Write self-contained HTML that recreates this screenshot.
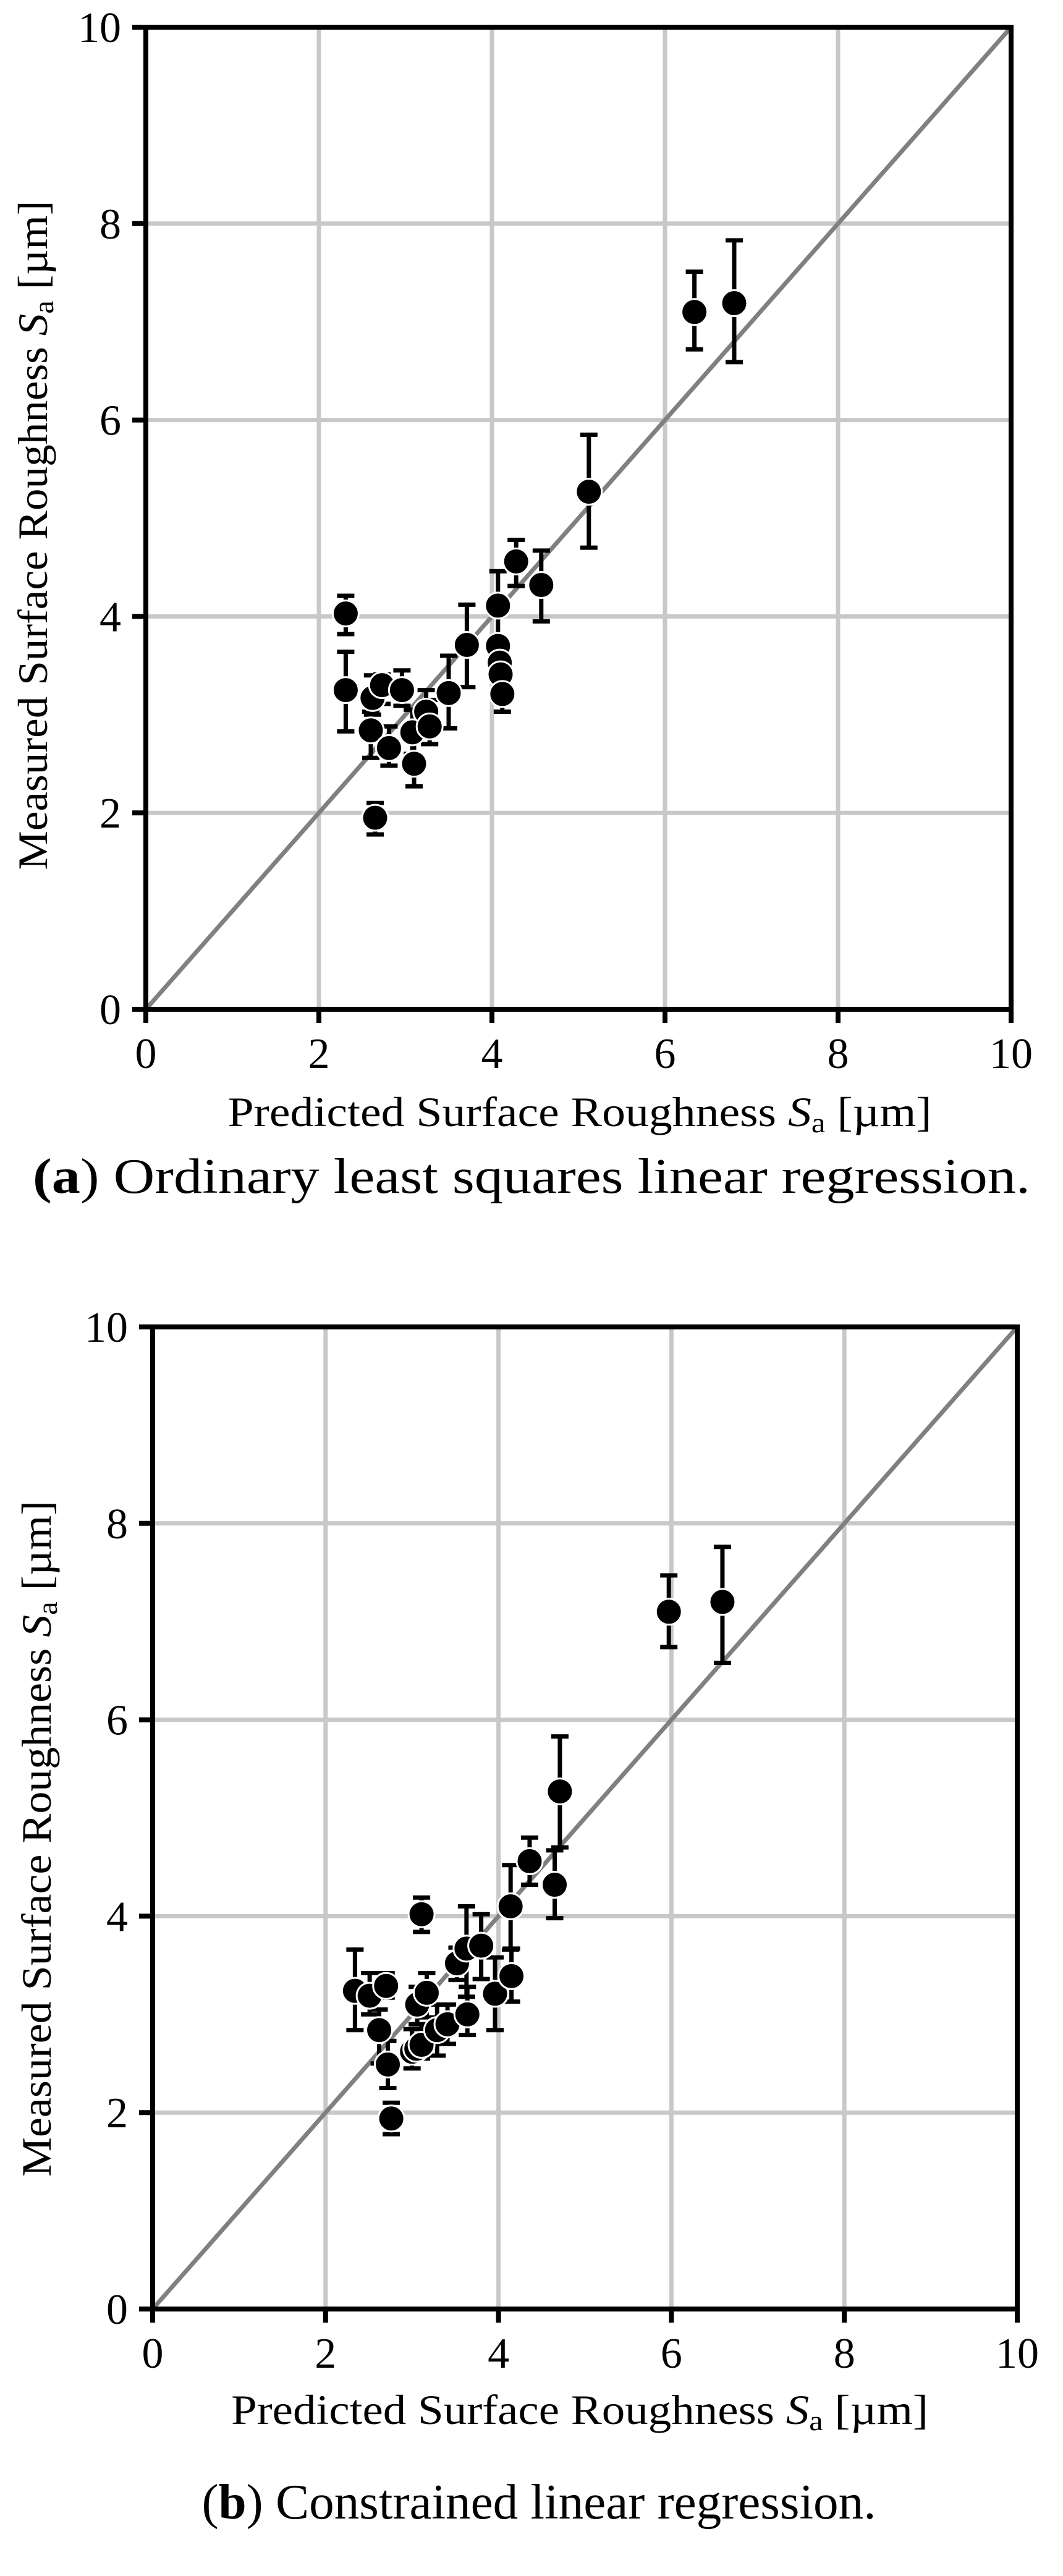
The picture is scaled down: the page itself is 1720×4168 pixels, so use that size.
<!DOCTYPE html>
<html><head><meta charset="utf-8"><style>
html,body{margin:0;padding:0;background:#fff;}
svg{display:block;}
text{font-family:"Liberation Serif",serif;fill:#000;}
</style></head><body>
<svg id="s" width="1720" height="4168" viewBox="0 0 1720 4168" xmlns="http://www.w3.org/2000/svg">
<g id="g"></g>
<text x="860" y="1930" font-size="80" text-anchor="middle" textLength="1614" lengthAdjust="spacingAndGlyphs"><tspan font-weight="bold">(</tspan><tspan font-weight="bold">a</tspan>) Ordinary least squares linear regression.</text>
<text x="872" y="4075" font-size="80" text-anchor="middle" textLength="1091" lengthAdjust="spacingAndGlyphs">(<tspan font-weight="bold">b</tspan>) Constrained linear regression.</text>
</svg>
<script>
var g=document.getElementById('g');var NS='http://www.w3.org/2000/svg';
function el(t,a,p){var e=document.createElementNS(NS,t);for(var k in a)e.setAttribute(k,a[k]);(p||g).appendChild(e);return e;}
function plot(P,pts){
 var X=function(v){return P.x0+(P.x1-P.x0)*v/10},Y=function(v){return P.y0-(P.y0-P.y1)*v/10};
 for(var i=2;i<=8;i+=2){el('line',{x1:X(i),x2:X(i),y1:P.y1,y2:P.y0,stroke:'#c8c8c8','stroke-width':7});
  el('line',{x1:P.x0,x2:P.x1,y1:Y(i),y2:Y(i),stroke:'#c8c8c8','stroke-width':7});}
 el('line',{x1:X(0),y1:Y(0),x2:X(10),y2:Y(10),stroke:'#808080','stroke-width':7});
 pts.forEach(function(p){var x=X(p[0]);
  if(p[2]!=null){el('line',{x1:x,x2:x,y1:Y(p[2]),y2:Y(p[3]),stroke:'#000','stroke-width':7});
   el('line',{x1:x-14,x2:x+14,y1:Y(p[2]),y2:Y(p[2]),stroke:'#000','stroke-width':7});
   el('line',{x1:x-14,x2:x+14,y1:Y(p[3]),y2:Y(p[3]),stroke:'#000','stroke-width':7});}});
 pts.forEach(function(p){el('circle',{cx:X(p[0]),cy:Y(p[1]),r:21,fill:'#000',stroke:'#fff','stroke-width':3});});
 el('rect',{x:P.x0,y:P.y1,width:P.x1-P.x0,height:P.y0-P.y1,fill:'none',stroke:'#000','stroke-width':8});
 for(var i=0;i<=10;i+=2){
  el('line',{x1:X(i),x2:X(i),y1:P.y0,y2:P.y0+22,stroke:'#000','stroke-width':8});
  el('line',{x1:P.x0-22,x2:P.x0,y1:Y(i),y2:Y(i),stroke:'#000','stroke-width':8});
  var t=el('text',{x:X(i),y:P.y0+95,'font-size':70,'text-anchor':'middle'});t.textContent=i;
  t=el('text',{x:P.x0-40,y:Y(i)+24,'font-size':70,'text-anchor':'end'});t.textContent=i;}
 var xl=el('text',{x:P.xlx,y:P.xly,'font-size':68,'text-anchor':'middle',textLength:P.xlw,lengthAdjust:'spacingAndGlyphs'});
 xl.innerHTML='Predicted Surface Roughness <tspan font-style="italic">S</tspan><tspan font-size="46" dy="10">a</tspan><tspan dy="-10"> [µm]</tspan>';
 var yl=el('text',{x:0,y:0,'font-size':68,'text-anchor':'middle',textLength:P.ylw,lengthAdjust:'spacingAndGlyphs',transform:'translate('+P.ylx+','+P.yly+') rotate(-90)'});
 yl.innerHTML='Measured Surface Roughness <tspan font-style="italic">S</tspan><tspan font-size="46" dy="10">a</tspan><tspan dy="-10"> [µm]</tspan>';
}
plot({x0:236,x1:1636,y0:1633,y1:44,xlx:938,xly:1822,xlw:1139,ylx:76,yly:866,ylw:1083},[
[2.31,4.03,4.21,3.82],[2.31,3.25,3.64,2.83],[2.62,3.17,3.4,3.0],[2.60,2.84,3.03,2.56],[2.65,1.95,2.10,1.78],
[2.73,3.30,3.41,3.11],[2.81,2.66,2.88,2.48],[2.96,3.25,3.45,3.09],[3.08,2.82,3.05,2.60],[3.10,2.50,2.73,2.27],
[3.24,3.03,3.25,2.85],[3.28,2.88,3.15,2.70],[3.50,3.22,3.60,2.86],[3.71,3.71,4.12,3.28],[4.07,4.11,4.46,3.74],
[4.07,3.70],[4.09,3.53],[4.10,3.41],[4.12,3.21,3.41,3.03],[4.28,4.56,4.78,4.31],[4.57,4.32,4.67,3.95],
[5.12,5.27,5.85,4.70],[6.34,7.10,7.51,6.72],[6.80,7.19,7.83,6.59]]);
plot({x0:247,x1:1646,y0:3736,y1:2147,xlx:938,xly:3922,xlw:1128,ylx:82,yly:2975,ylw:1094},[
[2.34,3.24,3.66,2.84],[2.51,3.19,3.42,3.0],[2.70,3.29,3.42,3.17],[2.62,2.84,3.05,2.50],[2.72,2.49,2.73,2.25],
[2.76,1.94,2.10,1.78],[3.0,2.62,2.85,2.45],[3.05,2.65],[3.06,3.10,3.28,2.90],[3.11,4.02,4.19,3.84],
[3.17,3.22,3.42,2.97],[3.11,2.69,2.9,2.55],[3.29,2.84,3.1,2.58],[3.41,2.90,3.1,2.70],[3.52,3.52,3.68,3.35],
[3.64,3.0,3.28,2.79],[3.63,3.67,4.1,3.18],[3.80,3.70,4.02,3.36],[3.96,3.21,3.58,2.84],[4.14,4.10,4.52,3.66],
[4.15,3.39,3.67,3.13],[4.36,4.56,4.8,4.32],[4.65,4.32,4.67,3.98],[4.71,5.27,5.83,4.70],[5.97,7.10,7.47,6.74],[6.59,7.20,7.76,6.58]]);
</script>
</body></html>
